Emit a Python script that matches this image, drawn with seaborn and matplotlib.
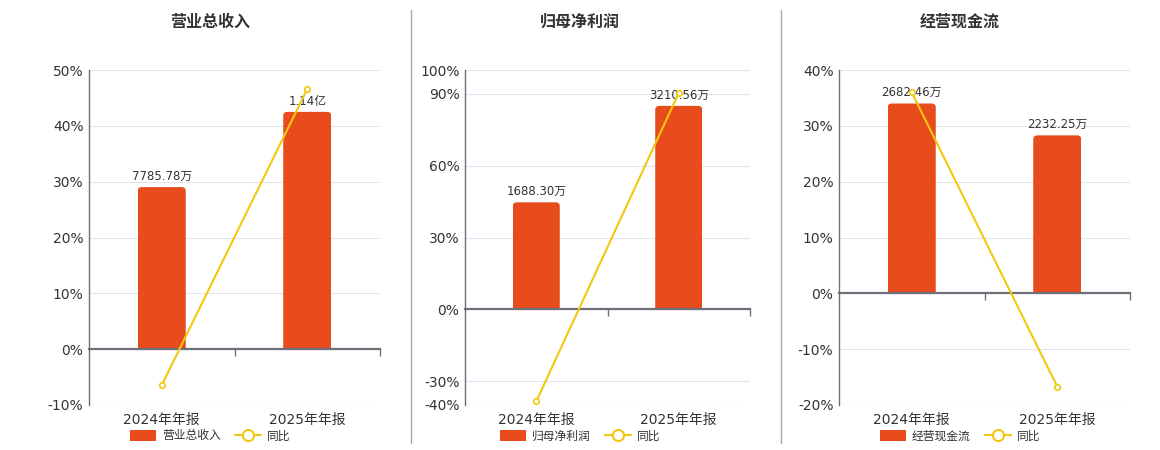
import matplotlib.pyplot as plt
import seaborn as sns
import pandas as pd
from matplotlib.lines import Line2D
from matplotlib.patches import Patch, FancyBboxPatch, Rectangle

sns.set_theme(style="white")
plt.rcParams['font.family'] = ['DejaVu Sans', 'Noto Sans CJK SC']

periods = ['2024年年报', '2025年年报']

# bars, in 万
revenue = [7785.78, 11400.0]
net_profit = [1688.30, 3210.56]
cash_flow = [2682.46, 2232.25]

revenue_labels = ['7785.78万', '1.14亿']
net_profit_labels = ['1688.30万', '3210.56万']
cash_flow_labels = ['2682.46万', '2232.25万']

# 同比, in %
revenue_yoy = [-6.45, 46.6]
net_profit_yoy = [-38.5, 90.4]
cash_flow_yoy = [36.0, -16.7]

revenue_ticks = [-10, 0, 10, 20, 30, 40, 50]
net_profit_ticks = [-40, -30, 0, 30, 60, 90, 100]
cash_flow_ticks = [-20, -10, 0, 10, 20, 30, 40]

BAR = '#E84C1D'
LINE = '#F2C80F'
AXIS = '#6E7079'
TEXT = '#333333'

panels = [
    ('营业总收入', revenue, revenue_labels, revenue_yoy, revenue_ticks),
    ('归母净利润', net_profit, net_profit_labels, net_profit_yoy, net_profit_ticks),
    ('经营现金流', cash_flow, cash_flow_labels, cash_flow_yoy, cash_flow_ticks),
]

# axes boxes in pixels: left, width ; title/legend centre
W, H = 1160, 450
AX_H = 335
boxes = [(89, 291, 210), (465, 285, 580), (839, 291, 960)]

fig = plt.figure(figsize=(11.6, 4.5), dpi=100)


def round_tops(ax, width_px, radius_px=4):
    # swap seaborn's rectangles for ones with rounded top corners
    y0, y1 = ax.get_ylim()
    x_per_px = 2.0 / width_px
    y_per_px = (y1 - y0) / AX_H
    rs = radius_px * x_per_px
    ext = radius_px * y_per_px
    for p in list(ax.patches):
        x, y = p.get_x(), p.get_y()
        w, h = p.get_width(), p.get_height()
        fb = FancyBboxPatch((x, y - ext), w, h + ext,
                            boxstyle=f'round,pad=0,rounding_size={rs}',
                            mutation_aspect=y_per_px / x_per_px,
                            facecolor=p.get_facecolor(), edgecolor='none')
        clip = Rectangle((x, y), w, h * 2, transform=ax.transData)
        ax.add_patch(fb)
        fb.set_clip_path(clip)
        p.set_visible(False)


for (title, bars, labels, yoy, ticks), (left, width, cx) in zip(panels, boxes):
    ax = fig.add_axes([left / W, 45 / H, width / W, AX_H / H])
    ax2 = ax.twinx()
    ax3 = ax.twinx()

    lo, hi = ticks[0], ticks[-1]
    df = pd.DataFrame({'period': periods, 'value': bars, 'yoy': yoy})

    # base axis: percent ticks + grid
    ax.set_xlim(-0.5, 1.5)
    ax.set_ylim(lo, hi)
    ax.set_yticks(ticks, labels=[f'{t}%' for t in ticks])
    ax.set_xticks([0, 1], labels=periods)
    ax.tick_params(axis='y', length=0, pad=4, labelsize=10, labelcolor=TEXT)
    ax.tick_params(axis='x', length=0, pad=6, labelsize=10, labelcolor=TEXT)
    ax.grid(axis='y', color='#E0E6F1', lw=0.8)
    ax.set_axisbelow(True)
    for s in ['top', 'right', 'bottom']:
        ax.spines[s].set_visible(False)
    ax.spines['left'].set_color(AXIS)
    ax.spines['left'].set_linewidth(1)

    # bars on their own hidden scale, zero aligned with 0%
    sns.barplot(data=df, x='period', y='value', ax=ax2, color=BAR,
                width=0.33, saturation=1, linewidth=0)
    top = max(bars) / 0.85
    ax2.set_ylim(top * lo / hi, top)
    ax2.set_xlim(-0.5, 1.5)
    ax2.bar_label(ax2.containers[0], labels=labels, padding=3,
                  fontsize=8.5, color=TEXT)
    round_tops(ax2, width)
    ax2.set_yticks([])
    ax2.set_xlabel('')
    ax2.set_ylabel('')
    for s in ax2.spines.values():
        s.set_visible(False)

    # 同比 line
    sns.pointplot(data=df, x='period', y='yoy', ax=ax3, color=LINE,
                  markers='o', linewidth=1.5, markersize=4,
                  markerfacecolor='white', markeredgewidth=1.2)
    ax3.set_ylim(lo, hi)
    ax3.set_xlim(-0.5, 1.5)
    ax3.set_yticks([])
    ax3.set_xlabel('')
    ax3.set_ylabel('')
    for s in ax3.spines.values():
        s.set_visible(False)

    # x axis line at 0%
    sec = ax3.secondary_xaxis(-lo / (hi - lo))
    sec.set_xticks([0.5, 1.5])
    sec.tick_params(labelbottom=False, length=5, width=1, color=AXIS)
    sec.spines['bottom'].set_color(AXIS)
    sec.spines['bottom'].set_linewidth(1.6)

    ax.set_xlabel('')
    ax.set_ylabel('')

    fig.text(cx / W, 1 - 22 / H, title, ha='center', va='center',
             fontsize=11.5, fontweight='bold', color=TEXT)

    handles = [Patch(facecolor=BAR, edgecolor='none'),
               Line2D([], [], color=LINE, lw=1.5, marker='o', markersize=8,
                      markerfacecolor='white', markeredgewidth=1.5)]
    fig.legend(handles, [title, '同比'], loc='center',
               bbox_to_anchor=(cx / W, 14 / H), ncol=2, frameon=False,
               fontsize=8.5, handlelength=2.2, handleheight=1.0,
               columnspacing=1.2, handletextpad=0.5, labelcolor=TEXT)

for x in [410.5, 781]:
    fig.add_artist(Line2D([x / W] * 2, [1 - 10 / H, 1 - 443 / H],
                          color='#AAAAAA', lw=1))

fig.savefig('out.png', dpi=100)
